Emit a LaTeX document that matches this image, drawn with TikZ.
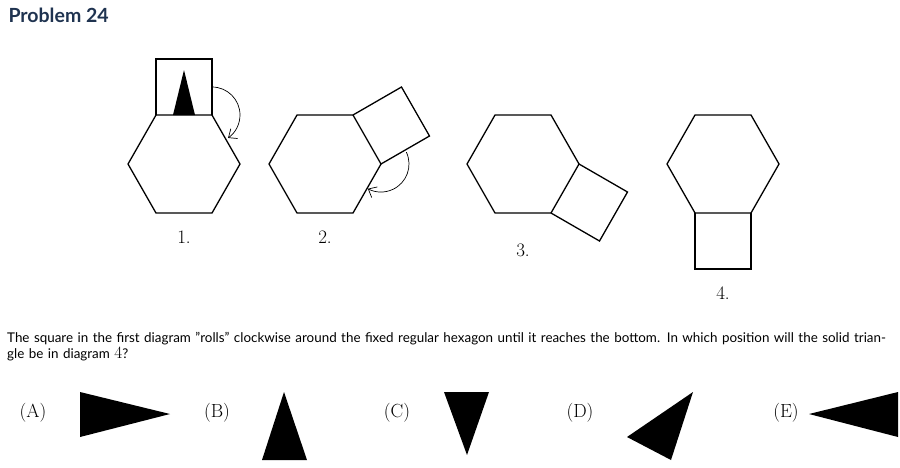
\documentclass[tikz,border=0pt]{standalone}
\usepackage{fontspec}
\setsansfont{Lato}
\usetikzlibrary{arrows.meta}
\definecolor{navy}{HTML}{1F3350}
\begin{document}
\begin{tikzpicture}[x=1pt,y=-1pt,
  ln/.style={line width=1.3pt,line join=miter},
  arc/.style={line width=0.7pt,-{Straight Barb[length=7pt,width=12pt]}},
  lab/.style={font=\fontsize{19}{19}\selectfont},
  opt/.style={font=\fontsize{19}{19}\selectfont},
  tri/.style={fill=black}]
\useasboundingbox (0,0) rectangle (900,467);
\node[anchor=west,font=\sffamily\bfseries\fontsize{19.5}{19.5}\selectfont,text=navy] (title) at (5,15) {Problem 24};
% hexagons
\foreach \cx/\n in {184/a,325/b,523/c,723/d}{
  \draw[ln] (\cx-56,164) -- (\cx-28,115) -- (\cx+28,115) -- (\cx+56,164) -- (\cx+28,213) -- (\cx-28,213) -- cycle;
}
% diagram 1
\draw[ln] (156,115) -- (156,59) -- (212,59) -- (212,115);
\fill[tri] (184,70) -- (173,115) -- (195,115) -- cycle;
\draw[arc] (212,115) ++(-90:28) arc[start angle=-90,end angle=55,radius=28];
% diagram 2
\draw[ln] (353,115) -- (401.5,87) -- (429.5,136) -- (381,164);
\draw[arc] (381,164) ++(-25:28) arc[start angle=-25,end angle=118,radius=28];
% diagram 3
\draw[ln] (579,164) -- (627.5,192) -- (599.5,241) -- (551,213);
% diagram 4
\draw[ln] (695,213) -- (695,269) -- (751,269) -- (751,213);
\node[lab] (l1) at (184,237) {1.};
\node[lab] (l2) at (325,237) {2.};
\node[lab] (l3) at (523,250) {3.};
\node[lab] (l4) at (723,293) {4.};
\node[anchor=north west,text width=884pt,align=left,font=\sffamily\fontsize{13.4}{16}\selectfont,inner sep=0pt] (q) at (7,332) {The square in the first diagram "rolls" clockwise around the fixed regular hexagon until it reaches the bottom. In which position will the solid triangle be in diagram {\fontsize{18}{16}\selectfont\rmfamily$4$}?};
\node[opt] (A) at (33,413) {(A)};
\node[opt] (B) at (217,413) {(B)};
\node[opt] (C) at (397,413) {(C)};
\node[opt] (D) at (580,413) {(D)};
\node[opt] (E) at (786,413) {(E)};
\fill[tri] (80,392) -- (80,437) -- (170,414) -- cycle;
\fill[tri] (284,392) -- (262,460) -- (307,460) -- cycle;
\fill[tri] (444,392) -- (489,392) -- (467,455) -- cycle;
\fill[tri] (693,392) -- (627,437) -- (671,460) -- cycle;
\fill[tri] (809,414) -- (898,392) -- (898,437) -- cycle;
\end{tikzpicture}
\end{document}
